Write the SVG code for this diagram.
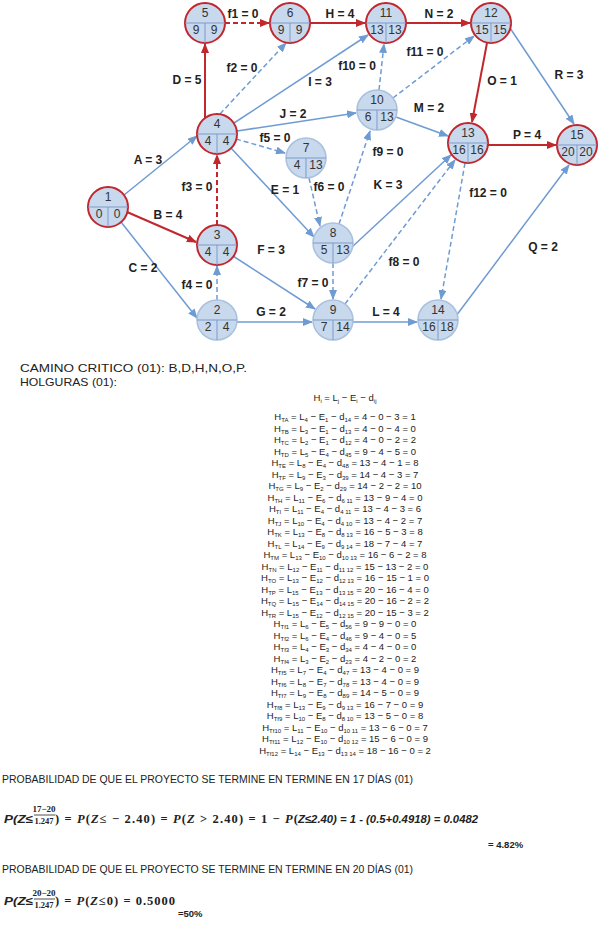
<svg xmlns="http://www.w3.org/2000/svg" width="613" height="934" viewBox="0 0 613 934">
<style>
.nd{fill:#c8d8ed;stroke:#a9c1de;stroke-width:1.5}
.cr{stroke:#c1272d;stroke-width:2}
.dv{stroke:#7d9bc9;stroke-width:1}
.nt{font-family:"Liberation Sans",Arial,sans-serif;font-size:12px;fill:#333;text-anchor:middle}
.el{font-family:"Liberation Sans",Arial,sans-serif;font-size:12px;font-weight:bold;fill:#222;text-anchor:middle}
.eb{stroke:#6f9bd3;stroke-width:1.5;fill:none}
.er{stroke:#c1272d;stroke-width:2;fill:none}
.ds{stroke-dasharray:5 3}
.tx{font-family:"Liberation Sans",Arial,sans-serif;fill:#222}
.hl{font-family:"Liberation Sans",Arial,sans-serif;font-size:9.5px;fill:#222;text-anchor:middle}
.s{font-size:6px}
.fi{font-family:"Liberation Sans",Arial,sans-serif;font-weight:bold;font-style:italic;font-size:11.5px;fill:#222}
.fs{font-family:"Liberation Serif","Times New Roman",serif;font-weight:bold;fill:#222}
</style>
<defs>
<marker id="ab" markerWidth="10" markerHeight="8" refX="9" refY="4" orient="auto" markerUnits="userSpaceOnUse"><path d="M0,0 L10,4 L0,8 z" fill="#6f9bd3"/></marker>
<marker id="ar" markerWidth="10" markerHeight="8" refX="9" refY="4" orient="auto" markerUnits="userSpaceOnUse"><path d="M0,0 L10,4 L0,8 z" fill="#c1272d"/></marker>
</defs>
<rect width="613" height="934" fill="#ffffff"/>
<g id="connectors">
<line class="eb" x1="124" y1="195" x2="197" y2="136" marker-end="url(#ab)"/>
<line class="er" x1="127" y1="212" x2="196" y2="242" marker-end="url(#ar)"/>
<line class="eb" x1="121" y1="222" x2="197" y2="318" marker-end="url(#ab)"/>
<line class="er" x1="205" y1="118" x2="205" y2="44" marker-end="url(#ar)"/>
<line class="eb" x1="231" y1="148" x2="314" y2="237" marker-end="url(#ab)"/>
<line class="eb" x1="233" y1="256" x2="315" y2="309" marker-end="url(#ab)"/>
<line class="eb" x1="237" y1="322" x2="312" y2="322" marker-end="url(#ab)"/>
<line class="er" x1="310" y1="23" x2="365" y2="23" marker-end="url(#ar)"/>
<line class="eb" x1="234" y1="123" x2="368" y2="35" marker-end="url(#ab)"/>
<line class="eb" x1="237" y1="131" x2="356" y2="113" marker-end="url(#ab)"/>
<line class="eb" x1="352" y1="247" x2="451" y2="155" marker-end="url(#ab)"/>
<line class="eb" x1="353" y1="322" x2="417" y2="322" marker-end="url(#ab)"/>
<line class="eb" x1="396" y1="117" x2="448" y2="136" marker-end="url(#ab)"/>
<line class="er" x1="406" y1="23" x2="470" y2="23" marker-end="url(#ar)"/>
<line class="er" x1="487" y1="43" x2="472" y2="122" marker-end="url(#ar)"/>
<line class="er" x1="488" y1="145" x2="556" y2="145" marker-end="url(#ar)"/>
<line class="eb" x1="456" y1="316" x2="569" y2="165" marker-end="url(#ab)"/>
<line class="eb" x1="510" y1="28" x2="574" y2="124" marker-end="url(#ab)"/>
<line class="er ds" x1="225" y1="23" x2="269" y2="23" marker-end="url(#ar)"/>
<line class="eb ds" x1="220" y1="114" x2="286" y2="43" marker-end="url(#ab)"/>
<line class="er ds" x1="217" y1="225" x2="217" y2="155" marker-end="url(#ar)"/>
<line class="eb ds" x1="217" y1="300" x2="217" y2="266" marker-end="url(#ab)"/>
<line class="eb ds" x1="236" y1="139" x2="285" y2="153" marker-end="url(#ab)"/>
<line class="eb ds" x1="309" y1="178" x2="320" y2="226" marker-end="url(#ab)"/>
<line class="eb ds" x1="333" y1="263" x2="333" y2="299" marker-end="url(#ab)"/>
<line class="eb ds" x1="345" y1="304" x2="455" y2="160" marker-end="url(#ab)"/>
<line class="eb ds" x1="339" y1="224" x2="370" y2="131" marker-end="url(#ab)"/>
<line class="eb ds" x1="379" y1="90" x2="384" y2="44" marker-end="url(#ab)"/>
<line class="eb ds" x1="393" y1="98" x2="474" y2="36" marker-end="url(#ab)"/>
<line class="eb ds" x1="465" y1="163" x2="441" y2="299" marker-end="url(#ab)"/>
<text class="el" x="243" y="18">f1 = 0</text>
<text class="el" x="340" y="18">H = 4</text>
<text class="el" x="439" y="18">N = 2</text>
<text class="el" x="242" y="72">f2 = 0</text>
<text class="el" x="187" y="84">D = 5</text>
<text class="el" x="320" y="86">I = 3</text>
<text class="el" x="357" y="70">f10 = 0</text>
<text class="el" x="425" y="56">f11 = 0</text>
<text class="el" x="502" y="85">O = 1</text>
<text class="el" x="569" y="79">R = 3</text>
<text class="el" x="293" y="118">J = 2</text>
<text class="el" x="429" y="112">M = 2</text>
<text class="el" x="275" y="142">f5 = 0</text>
<text class="el" x="527" y="139">P = 4</text>
<text class="el" x="388" y="156">f9 = 0</text>
<text class="el" x="148" y="164">A = 3</text>
<text class="el" x="197" y="191">f3 = 0</text>
<text class="el" x="285" y="194">E = 1</text>
<text class="el" x="329" y="191">f6 = 0</text>
<text class="el" x="388" y="189">K = 3</text>
<text class="el" x="488" y="197">f12 = 0</text>
<text class="el" x="168" y="219">B = 4</text>
<text class="el" x="271" y="254">F = 3</text>
<text class="el" x="143" y="272">C = 2</text>
<text class="el" x="543" y="251">Q = 2</text>
<text class="el" x="197" y="289">f4 = 0</text>
<text class="el" x="313" y="287">f7 = 0</text>
<text class="el" x="404" y="266">f8 = 0</text>
<text class="el" x="271" y="316">G = 2</text>
<text class="el" x="386" y="316">L = 4</text>
</g>
<g id="n1"><circle class="nd cr" cx="108" cy="207" r="20"/><line class="dv" x1="88" y1="207" x2="128" y2="207"/><line class="dv" x1="108" y1="207" x2="108" y2="227"/><text class="nt" x="108" y="201">1</text><text class="nt" x="99" y="218">0</text><text class="nt" x="117" y="218">0</text></g>
<g id="n2"><circle class="nd" cx="217" cy="320" r="20"/><line class="dv" x1="197" y1="320" x2="237" y2="320"/><line class="dv" x1="217" y1="320" x2="217" y2="340"/><text class="nt" x="217" y="314">2</text><text class="nt" x="208" y="331">2</text><text class="nt" x="226" y="331">4</text></g>
<g id="n3"><circle class="nd cr" cx="217" cy="245" r="20"/><line class="dv" x1="197" y1="245" x2="237" y2="245"/><line class="dv" x1="217" y1="245" x2="217" y2="265"/><text class="nt" x="217" y="239">3</text><text class="nt" x="208" y="256">4</text><text class="nt" x="226" y="256">4</text></g>
<g id="n4"><circle class="nd cr" cx="217" cy="134" r="20"/><line class="dv" x1="197" y1="134" x2="237" y2="134"/><line class="dv" x1="217" y1="134" x2="217" y2="154"/><text class="nt" x="217" y="128">4</text><text class="nt" x="208" y="145">4</text><text class="nt" x="226" y="145">4</text></g>
<g id="n5"><circle class="nd cr" cx="205" cy="23" r="20"/><line class="dv" x1="185" y1="23" x2="225" y2="23"/><line class="dv" x1="205" y1="23" x2="205" y2="43"/><text class="nt" x="205" y="17">5</text><text class="nt" x="196" y="34">9</text><text class="nt" x="214" y="34">9</text></g>
<g id="n6"><circle class="nd cr" cx="290" cy="23" r="20"/><line class="dv" x1="270" y1="23" x2="310" y2="23"/><line class="dv" x1="290" y1="23" x2="290" y2="43"/><text class="nt" x="290" y="17">6</text><text class="nt" x="281" y="34">9</text><text class="nt" x="299" y="34">9</text></g>
<g id="n7"><circle class="nd" cx="306" cy="158" r="20"/><line class="dv" x1="286" y1="158" x2="326" y2="158"/><line class="dv" x1="306" y1="158" x2="306" y2="178"/><text class="nt" x="306" y="152">7</text><text class="nt" x="297" y="169">4</text><text class="nt" x="316" y="169">13</text></g>
<g id="n8"><circle class="nd" cx="333" cy="243" r="20"/><line class="dv" x1="313" y1="243" x2="353" y2="243"/><line class="dv" x1="333" y1="243" x2="333" y2="263"/><text class="nt" x="333" y="237">8</text><text class="nt" x="324" y="254">5</text><text class="nt" x="343" y="254">13</text></g>
<g id="n9"><circle class="nd" cx="333" cy="320" r="20"/><line class="dv" x1="313" y1="320" x2="353" y2="320"/><line class="dv" x1="333" y1="320" x2="333" y2="340"/><text class="nt" x="333" y="314">9</text><text class="nt" x="324" y="331">7</text><text class="nt" x="343" y="331">14</text></g>
<g id="n10"><circle class="nd" cx="377" cy="110" r="20"/><line class="dv" x1="357" y1="110" x2="397" y2="110"/><line class="dv" x1="377" y1="110" x2="377" y2="130"/><text class="nt" x="377" y="104">10</text><text class="nt" x="368" y="121">6</text><text class="nt" x="387" y="121">13</text></g>
<g id="n11"><circle class="nd cr" cx="386" cy="23" r="20"/><line class="dv" x1="366" y1="23" x2="406" y2="23"/><line class="dv" x1="386" y1="23" x2="386" y2="43"/><text class="nt" x="386" y="17">11</text><text class="nt" x="377" y="34">13</text><text class="nt" x="395" y="34">13</text></g>
<g id="n12"><circle class="nd cr" cx="491" cy="23" r="20"/><line class="dv" x1="471" y1="23" x2="511" y2="23"/><line class="dv" x1="491" y1="23" x2="491" y2="43"/><text class="nt" x="491" y="17">12</text><text class="nt" x="482" y="34">15</text><text class="nt" x="500" y="34">15</text></g>
<g id="n13"><circle class="nd cr" cx="468" cy="143" r="20"/><line class="dv" x1="448" y1="143" x2="488" y2="143"/><line class="dv" x1="468" y1="143" x2="468" y2="163"/><text class="nt" x="468" y="137">13</text><text class="nt" x="459" y="154">16</text><text class="nt" x="477" y="154">16</text></g>
<g id="n14"><circle class="nd" cx="438" cy="320" r="20"/><line class="dv" x1="418" y1="320" x2="458" y2="320"/><line class="dv" x1="438" y1="320" x2="438" y2="340"/><text class="nt" x="438" y="314">14</text><text class="nt" x="429" y="331">16</text><text class="nt" x="447" y="331">18</text></g>
<g id="n15"><circle class="nd cr" cx="577" cy="145" r="20"/><line class="dv" x1="557" y1="145" x2="597" y2="145"/><line class="dv" x1="577" y1="145" x2="577" y2="165"/><text class="nt" x="577" y="139">15</text><text class="nt" x="568" y="156">20</text><text class="nt" x="586" y="156">20</text></g>
<g id="texts">
<text class="tx" x="20" y="372" font-size="11.5" textLength="227" lengthAdjust="spacingAndGlyphs">CAMINO CRITICO (01): B,D,H,N,O,P.</text>
<text class="tx" x="20" y="386" font-size="11.5" textLength="97" lengthAdjust="spacingAndGlyphs">HOLGURAS (01):</text>
<text class="hl" x="345" y="401">H<tspan class="s" dy="2">i</tspan><tspan dy="-2"> = L</tspan><tspan class="s" dy="2">j</tspan><tspan dy="-2"> − E</tspan><tspan class="s" dy="2">i</tspan><tspan dy="-2"> − d</tspan><tspan class="s" dy="2">ij</tspan></text>
<text class="hl" x="345" y="420">H<tspan class="s" dy="2">TA</tspan><tspan dy="-2"> = L</tspan><tspan class="s" dy="2">4</tspan><tspan dy="-2"> − E</tspan><tspan class="s" dy="2">1</tspan><tspan dy="-2"> − d</tspan><tspan class="s" dy="2">14</tspan><tspan dy="-2"> = 4 − 0 − 3 = 1</tspan></text>
<text class="hl" x="345" y="431.5">H<tspan class="s" dy="2">TB</tspan><tspan dy="-2"> = L</tspan><tspan class="s" dy="2">3</tspan><tspan dy="-2"> − E</tspan><tspan class="s" dy="2">1</tspan><tspan dy="-2"> − d</tspan><tspan class="s" dy="2">13</tspan><tspan dy="-2"> = 4 − 0 − 4 = 0</tspan></text>
<text class="hl" x="345" y="443">H<tspan class="s" dy="2">TC</tspan><tspan dy="-2"> = L</tspan><tspan class="s" dy="2">2</tspan><tspan dy="-2"> − E</tspan><tspan class="s" dy="2">1</tspan><tspan dy="-2"> − d</tspan><tspan class="s" dy="2">12</tspan><tspan dy="-2"> = 4 − 0 − 2 = 2</tspan></text>
<text class="hl" x="345" y="454.5">H<tspan class="s" dy="2">TD</tspan><tspan dy="-2"> = L</tspan><tspan class="s" dy="2">5</tspan><tspan dy="-2"> − E</tspan><tspan class="s" dy="2">4</tspan><tspan dy="-2"> − d</tspan><tspan class="s" dy="2">45</tspan><tspan dy="-2"> = 9 − 4 − 5 = 0</tspan></text>
<text class="hl" x="345" y="466">H<tspan class="s" dy="2">TE</tspan><tspan dy="-2"> = L</tspan><tspan class="s" dy="2">8</tspan><tspan dy="-2"> − E</tspan><tspan class="s" dy="2">4</tspan><tspan dy="-2"> − d</tspan><tspan class="s" dy="2">48</tspan><tspan dy="-2"> = 13 − 4 − 1 = 8</tspan></text>
<text class="hl" x="345" y="477.5">H<tspan class="s" dy="2">TF</tspan><tspan dy="-2"> = L</tspan><tspan class="s" dy="2">9</tspan><tspan dy="-2"> − E</tspan><tspan class="s" dy="2">3</tspan><tspan dy="-2"> − d</tspan><tspan class="s" dy="2">39</tspan><tspan dy="-2"> = 14 − 4 − 3 = 7</tspan></text>
<text class="hl" x="345" y="489">H<tspan class="s" dy="2">TG</tspan><tspan dy="-2"> = L</tspan><tspan class="s" dy="2">9</tspan><tspan dy="-2"> − E</tspan><tspan class="s" dy="2">2</tspan><tspan dy="-2"> − d</tspan><tspan class="s" dy="2">29</tspan><tspan dy="-2"> = 14 − 2 − 2 = 10</tspan></text>
<text class="hl" x="345" y="500.5">H<tspan class="s" dy="2">TH</tspan><tspan dy="-2"> = L</tspan><tspan class="s" dy="2">11</tspan><tspan dy="-2"> − E</tspan><tspan class="s" dy="2">6</tspan><tspan dy="-2"> − d</tspan><tspan class="s" dy="2">6 11</tspan><tspan dy="-2"> = 13 − 9 − 4 = 0</tspan></text>
<text class="hl" x="345" y="512">H<tspan class="s" dy="2">TI</tspan><tspan dy="-2"> = L</tspan><tspan class="s" dy="2">11</tspan><tspan dy="-2"> − E</tspan><tspan class="s" dy="2">4</tspan><tspan dy="-2"> − d</tspan><tspan class="s" dy="2">4 11</tspan><tspan dy="-2"> = 13 − 4 − 3 = 6</tspan></text>
<text class="hl" x="345" y="523.5">H<tspan class="s" dy="2">TJ</tspan><tspan dy="-2"> = L</tspan><tspan class="s" dy="2">10</tspan><tspan dy="-2"> − E</tspan><tspan class="s" dy="2">4</tspan><tspan dy="-2"> − d</tspan><tspan class="s" dy="2">4 10</tspan><tspan dy="-2"> = 13 − 4 − 2 = 7</tspan></text>
<text class="hl" x="345" y="535">H<tspan class="s" dy="2">TK</tspan><tspan dy="-2"> = L</tspan><tspan class="s" dy="2">13</tspan><tspan dy="-2"> − E</tspan><tspan class="s" dy="2">8</tspan><tspan dy="-2"> − d</tspan><tspan class="s" dy="2">8 13</tspan><tspan dy="-2"> = 16 − 5 − 3 = 8</tspan></text>
<text class="hl" x="345" y="546.5">H<tspan class="s" dy="2">TL</tspan><tspan dy="-2"> = L</tspan><tspan class="s" dy="2">14</tspan><tspan dy="-2"> − E</tspan><tspan class="s" dy="2">9</tspan><tspan dy="-2"> − d</tspan><tspan class="s" dy="2">9 14</tspan><tspan dy="-2"> = 18 − 7 − 4 = 7</tspan></text>
<text class="hl" x="345" y="558">H<tspan class="s" dy="2">TM</tspan><tspan dy="-2"> = L</tspan><tspan class="s" dy="2">13</tspan><tspan dy="-2"> − E</tspan><tspan class="s" dy="2">10</tspan><tspan dy="-2"> − d</tspan><tspan class="s" dy="2">10 13</tspan><tspan dy="-2"> = 16 − 6 − 2 = 8</tspan></text>
<text class="hl" x="345" y="569.5">H<tspan class="s" dy="2">TN</tspan><tspan dy="-2"> = L</tspan><tspan class="s" dy="2">12</tspan><tspan dy="-2"> − E</tspan><tspan class="s" dy="2">11</tspan><tspan dy="-2"> − d</tspan><tspan class="s" dy="2">11 12</tspan><tspan dy="-2"> = 15 − 13 − 2 = 0</tspan></text>
<text class="hl" x="345" y="581">H<tspan class="s" dy="2">TO</tspan><tspan dy="-2"> = L</tspan><tspan class="s" dy="2">13</tspan><tspan dy="-2"> − E</tspan><tspan class="s" dy="2">12</tspan><tspan dy="-2"> − d</tspan><tspan class="s" dy="2">12 13</tspan><tspan dy="-2"> = 16 − 15 − 1 = 0</tspan></text>
<text class="hl" x="345" y="592.5">H<tspan class="s" dy="2">TP</tspan><tspan dy="-2"> = L</tspan><tspan class="s" dy="2">15</tspan><tspan dy="-2"> − E</tspan><tspan class="s" dy="2">13</tspan><tspan dy="-2"> − d</tspan><tspan class="s" dy="2">13 15</tspan><tspan dy="-2"> = 20 − 16 − 4 = 0</tspan></text>
<text class="hl" x="345" y="604">H<tspan class="s" dy="2">TQ</tspan><tspan dy="-2"> = L</tspan><tspan class="s" dy="2">15</tspan><tspan dy="-2"> − E</tspan><tspan class="s" dy="2">14</tspan><tspan dy="-2"> − d</tspan><tspan class="s" dy="2">14 15</tspan><tspan dy="-2"> = 20 − 16 − 2 = 2</tspan></text>
<text class="hl" x="345" y="615.5">H<tspan class="s" dy="2">TR</tspan><tspan dy="-2"> = L</tspan><tspan class="s" dy="2">15</tspan><tspan dy="-2"> − E</tspan><tspan class="s" dy="2">12</tspan><tspan dy="-2"> − d</tspan><tspan class="s" dy="2">12 15</tspan><tspan dy="-2"> = 20 − 15 − 3 = 2</tspan></text>
<text class="hl" x="345" y="627">H<tspan class="s" dy="2">Tf1</tspan><tspan dy="-2"> = L</tspan><tspan class="s" dy="2">6</tspan><tspan dy="-2"> − E</tspan><tspan class="s" dy="2">5</tspan><tspan dy="-2"> − d</tspan><tspan class="s" dy="2">56</tspan><tspan dy="-2"> = 9 − 9 − 0 = 0</tspan></text>
<text class="hl" x="345" y="638.5">H<tspan class="s" dy="2">Tf2</tspan><tspan dy="-2"> = L</tspan><tspan class="s" dy="2">6</tspan><tspan dy="-2"> − E</tspan><tspan class="s" dy="2">4</tspan><tspan dy="-2"> − d</tspan><tspan class="s" dy="2">46</tspan><tspan dy="-2"> = 9 − 4 − 0 = 5</tspan></text>
<text class="hl" x="345" y="650">H<tspan class="s" dy="2">Tf3</tspan><tspan dy="-2"> = L</tspan><tspan class="s" dy="2">4</tspan><tspan dy="-2"> − E</tspan><tspan class="s" dy="2">3</tspan><tspan dy="-2"> − d</tspan><tspan class="s" dy="2">34</tspan><tspan dy="-2"> = 4 − 4 − 0 = 0</tspan></text>
<text class="hl" x="345" y="661.5">H<tspan class="s" dy="2">Tf4</tspan><tspan dy="-2"> = L</tspan><tspan class="s" dy="2">3</tspan><tspan dy="-2"> − E</tspan><tspan class="s" dy="2">2</tspan><tspan dy="-2"> − d</tspan><tspan class="s" dy="2">23</tspan><tspan dy="-2"> = 4 − 2 − 0 = 2</tspan></text>
<text class="hl" x="345" y="673">H<tspan class="s" dy="2">Tf5</tspan><tspan dy="-2"> = L</tspan><tspan class="s" dy="2">7</tspan><tspan dy="-2"> − E</tspan><tspan class="s" dy="2">4</tspan><tspan dy="-2"> − d</tspan><tspan class="s" dy="2">47</tspan><tspan dy="-2"> = 13 − 4 − 0 = 9</tspan></text>
<text class="hl" x="345" y="684.5">H<tspan class="s" dy="2">Tf6</tspan><tspan dy="-2"> = L</tspan><tspan class="s" dy="2">8</tspan><tspan dy="-2"> − E</tspan><tspan class="s" dy="2">7</tspan><tspan dy="-2"> − d</tspan><tspan class="s" dy="2">78</tspan><tspan dy="-2"> = 13 − 4 − 0 = 9</tspan></text>
<text class="hl" x="345" y="696">H<tspan class="s" dy="2">Tf7</tspan><tspan dy="-2"> = L</tspan><tspan class="s" dy="2">9</tspan><tspan dy="-2"> − E</tspan><tspan class="s" dy="2">8</tspan><tspan dy="-2"> − d</tspan><tspan class="s" dy="2">89</tspan><tspan dy="-2"> = 14 − 5 − 0 = 9</tspan></text>
<text class="hl" x="345" y="707.5">H<tspan class="s" dy="2">Tf8</tspan><tspan dy="-2"> = L</tspan><tspan class="s" dy="2">13</tspan><tspan dy="-2"> − E</tspan><tspan class="s" dy="2">9</tspan><tspan dy="-2"> − d</tspan><tspan class="s" dy="2">9 13</tspan><tspan dy="-2"> = 16 − 7 − 0 = 9</tspan></text>
<text class="hl" x="345" y="719">H<tspan class="s" dy="2">Tf9</tspan><tspan dy="-2"> = L</tspan><tspan class="s" dy="2">10</tspan><tspan dy="-2"> − E</tspan><tspan class="s" dy="2">8</tspan><tspan dy="-2"> − d</tspan><tspan class="s" dy="2">8 10</tspan><tspan dy="-2"> = 13 − 5 − 0 = 8</tspan></text>
<text class="hl" x="345" y="730.5">H<tspan class="s" dy="2">Tf10</tspan><tspan dy="-2"> = L</tspan><tspan class="s" dy="2">11</tspan><tspan dy="-2"> − E</tspan><tspan class="s" dy="2">10</tspan><tspan dy="-2"> − d</tspan><tspan class="s" dy="2">10 11</tspan><tspan dy="-2"> = 13 − 6 − 0 = 7</tspan></text>
<text class="hl" x="345" y="742">H<tspan class="s" dy="2">Tf11</tspan><tspan dy="-2"> = L</tspan><tspan class="s" dy="2">12</tspan><tspan dy="-2"> − E</tspan><tspan class="s" dy="2">10</tspan><tspan dy="-2"> − d</tspan><tspan class="s" dy="2">10 12</tspan><tspan dy="-2"> = 15 − 6 − 0 = 9</tspan></text>
<text class="hl" x="345" y="753.5">H<tspan class="s" dy="2">Tf12</tspan><tspan dy="-2"> = L</tspan><tspan class="s" dy="2">14</tspan><tspan dy="-2"> − E</tspan><tspan class="s" dy="2">13</tspan><tspan dy="-2"> − d</tspan><tspan class="s" dy="2">13 14</tspan><tspan dy="-2"> = 18 − 16 − 0 = 2</tspan></text>
<text class="tx" x="2" y="783" font-size="11.5" textLength="411" lengthAdjust="spacingAndGlyphs">PROBABILIDAD DE QUE EL PROYECTO SE TERMINE EN TERMINE EN 17 DÍAS (01)</text>
<text class="fi" x="4" y="823" textLength="29" lengthAdjust="spacingAndGlyphs">P(Z≤</text>
<text class="fs" x="44" y="812" font-size="9" text-anchor="middle" font-weight="normal">17−20</text>
<line x1="34" y1="815" x2="55" y2="815" stroke="#222" stroke-width="0.8"/>
<text class="fs" x="44" y="824" font-size="8.5" text-anchor="middle">1.247</text>
<text class="fs" x="55" y="823" font-size="12.5" textLength="243" lengthAdjust="spacing">) = <tspan font-style="italic">P</tspan>(<tspan font-style="italic">Z</tspan>≤ − 2.40) = <tspan font-style="italic">P</tspan>(<tspan font-style="italic">Z</tspan> &gt; 2.40) = 1 − <tspan font-style="italic">P</tspan>(</text>
<text class="fi" x="298" y="823" textLength="180" lengthAdjust="spacingAndGlyphs">Z≤2.40) = 1 - (0.5+0.4918) = 0.0482</text>
<text class="tx" x="488" y="848" font-size="9.5" font-weight="bold">= 4.82%</text>
<text class="tx" x="2" y="873" font-size="11.5" textLength="411" lengthAdjust="spacingAndGlyphs">PROBABILIDAD DE QUE EL PROYECTO SE TERMINE EN TERMINE EN 20 DÍAS (01)</text>
<text class="fi" x="4" y="905" textLength="29" lengthAdjust="spacingAndGlyphs">P(Z≤</text>
<text class="fs" x="44" y="896" font-size="9" text-anchor="middle" font-weight="normal">20−20</text>
<line x1="34" y1="899" x2="55" y2="899" stroke="#222" stroke-width="0.8"/>
<text class="fs" x="44" y="908" font-size="8.5" text-anchor="middle">1.247</text>
<text class="fs" x="55" y="905" font-size="12.5" textLength="120" lengthAdjust="spacing">) = <tspan font-style="italic">P</tspan>(<tspan font-style="italic">Z</tspan>≤0) = 0.5000</text>
<text class="tx" x="178" y="917" font-size="9.5" font-weight="bold">=50%</text>
</g>
</svg>
